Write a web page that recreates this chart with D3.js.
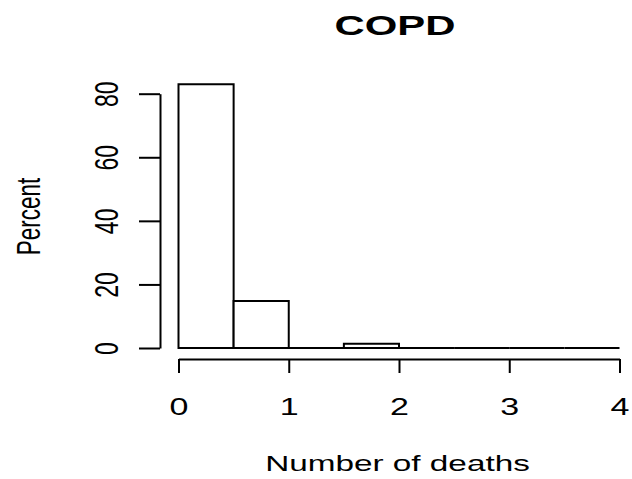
<!DOCTYPE html>
<html>
<head>
<meta charset="utf-8">
<script src="https://cdn.jsdelivr.net/npm/d3@7/dist/d3.min.js"></script>
<style>
  html, body { margin: 0; padding: 0; background: #fff; }
  svg { display: block; }
  text { font-family: "Liberation Sans", Arial, sans-serif; fill: #000; }
</style>
</head>
<body>
<svg id="chart" width="632" height="479"></svg>
<script>
// ---- data ----
const title = "COPD";
const xLabel = "Number of deaths";
const yLabel = "Percent";
const binEdges = [0, 0.5, 1, 1.5, 2, 2.5, 3, 3.5, 4];
const percents = [83.0, 14.8, 0, 1.3, 0, 0, 0, 0];
const xTicks = [0, 1, 2, 3, 4];
const yTicks = [0, 20, 40, 60, 80];

const bins = percents.map((v, i) => ({ x0: binEdges[i], x1: binEdges[i + 1], v }));

const svg = d3.select("#chart");
const SX = 1.48; // horizontal stretch of the original raster

const x = d3.scaleLinear().domain([0, 4]).range([178.5, 619.5]);
const y = d3.scaleLinear().domain([0, 80]).range([348, 93.7]);

// bars (paths so zero-height bins still show as a line on the baseline)
svg.append("g").selectAll("path").data(bins).join("path")
  .attr("d", d => {
    const p = d3.path();
    p.moveTo(x(d.x0), y(0));
    p.lineTo(x(d.x0), y(d.v));
    p.lineTo(x(d.x1), y(d.v));
    p.lineTo(x(d.x1), y(0));
    p.closePath();
    return p.toString();
  })
  .attr("fill", "#fff")
  .attr("stroke", "#000")
  .attr("stroke-width", 2);

// x axis
const gx = svg.append("g").attr("transform", "translate(0,359)")
  .call(d3.axisBottom(x).tickValues(xTicks).tickSize(14).tickSizeOuter(0).tickFormat(d3.format("d")));
gx.select(".domain").attr("stroke", "#000").attr("stroke-width", 2);
gx.selectAll(".tick line").attr("stroke", "#000").attr("stroke-width", 2);
gx.selectAll(".tick text")
  .attr("y", 0).attr("dy", null)
  .attr("font-size", 23)
  .attr("text-anchor", "middle")
  .attr("transform", `translate(0,56) scale(${SX},1)`);

// y axis
const gy = svg.append("g").attr("transform", "translate(160,0)")
  .call(d3.axisLeft(y).tickValues(yTicks).tickSize(21).tickSizeOuter(0).tickFormat(d3.format("d")));
gy.select(".domain").attr("stroke", "#000").attr("stroke-width", 2);
gy.selectAll(".tick line").attr("stroke", "#000").attr("stroke-width", 2);
gy.selectAll(".tick text")
  .attr("x", 0).attr("dy", null).attr("y", 0)
  .attr("font-size", 23)
  .attr("text-anchor", "middle")
  .attr("transform", `translate(-42,0) scale(${SX},1) rotate(-90)`);

// title
svg.append("text")
  .attr("text-anchor", "middle")
  .attr("font-size", 27)
  .attr("font-weight", "bold")
  .attr("transform", `translate(395,35) scale(1.55,1)`)
  .text(title);

// x label
svg.append("text")
  .attr("text-anchor", "middle")
  .attr("font-size", 22.5)
  .attr("transform", `translate(397.5,471) scale(${SX},1)`)
  .text(xLabel);

// y label
svg.append("text")
  .attr("text-anchor", "middle")
  .attr("font-size", 22.5)
  .attr("transform", `translate(40,216.5) scale(${SX},1) rotate(-90)`)
  .text(yLabel);
</script>
</body>
</html>
